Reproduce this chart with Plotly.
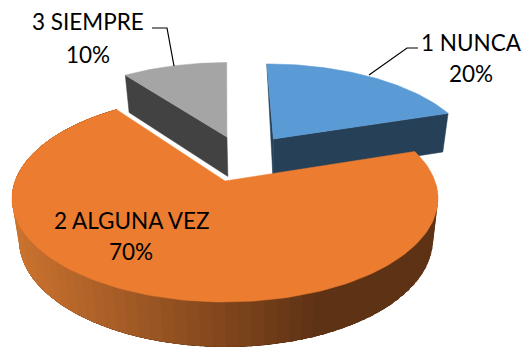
import math
import plotly.graph_objects as go

categories = ["1 NUNCA", "2 ALGUNA VEZ", "3 SIEMPRE"]
values = [20, 70, 10]
percent_labels = ["20%", "70%", "10%"]

W, H = 524, 347
TILT = -0.169
TOP = dict(cx=225.0, cy=198.5, rx=213.0, ry=103.5)
BOT = dict(cx=226.0, cy=240.0, rx=207.0, ry=107.0)
EXPLODE = {0: (0.248, -0.45), 1: (0.0, 0.0), 2: (0.01, -0.472)}
TOP_COL = ["#5B9BD5", "#EC7C30", "#A5A5A5"]
SIDE_COL = ["#264057", None, "#424242"]
K = math.sqrt(1 - TILT ** 2)


def project(x, y, plane):
    den = 1 + TILT * y
    u = K * x / den
    v = (y + TILT) / den
    return plane["cx"] + plane["rx"] * u, plane["cy"] + plane["ry"] * v


def pt(theta, off, r, plane):
    a = math.radians(theta)
    return project(off[0] + r * math.sin(a), off[1] - r * math.cos(a), plane)


def arc(t0, t1, off, plane, n=60):
    return [pt(t0 + (t1 - t0) * i / n, off, 1, plane) for i in range(n + 1)]


def poly(fig, pts, color, lw=0.5):
    xs = [p[0] for p in pts] + [pts[0][0]]
    ys = [p[1] for p in pts] + [pts[0][1]]
    fig.add_trace(go.Scatter(x=xs, y=ys, mode="lines", fill="toself", fillcolor=color,
                             line=dict(color=color, width=lw), hoverinfo="skip", showlegend=False))


total = sum(values)
angles = []
start = 0.0
for v in values:
    angles.append((start, start + 360.0 * v / total))
    start += 360.0 * v / total

fig = go.Figure()

# 3 SIEMPRE
t0, t1 = angles[2]
off = EXPLODE[2]
poly(fig, [pt(0, off, 0, TOP), pt(t0, off, 1, TOP), pt(t0, off, 1, BOT), pt(0, off, 0, BOT)], SIDE_COL[2])
poly(fig, [pt(0, off, 0, TOP)] + arc(t0, t1, off, TOP), TOP_COL[2])

# 1 NUNCA
t0, t1 = angles[0]
off = EXPLODE[0]
poly(fig, [pt(t0, off, 1, TOP), pt(0, off, 0, TOP), pt(0, off, 0, BOT)], SIDE_COL[0])
poly(fig, [pt(0, off, 0, TOP), pt(t1, off, 1, TOP), pt(t1, off, 1, BOT), pt(0, off, 0, BOT)], SIDE_COL[0])
poly(fig, [pt(0, off, 0, TOP)] + arc(t0, t1, off, TOP), TOP_COL[0])

# 2 ALGUNA VEZ: rim with horizontal shading, then top.
# Segments are painted so each reaches under the next, so no seams show.
t0, t1 = angles[1]
off = EXPLODE[1]
STEPS = 84
for i in range(STEPS):
    a0 = t0 + (t1 - t0) * i / STEPS
    a1 = t0 + (t1 - t0) * (i + 1) / STEPS
    p0, p1 = pt(a0, off, 1, TOP), pt(a1, off, 1, TOP)
    q0, q1 = pt(a0, off, 1, BOT), pt(a1, off, 1, BOT)
    f = min(max((0.5 * (p0[0] + p1[0]) - 10) / 310.0, 0), 1)
    c = (int(205 + (94 - 205) * f), int(116 + (50 - 116) * f), int(48 + (20 - 48) * f))
    pts = [p0] + arc(a0, t1, off, TOP, 12) + arc(t1, a0, off, BOT, 12)
    poly(fig, [p0, p1, q1, q0] if i == STEPS - 1 else pts, "rgb(%d,%d,%d)" % c, lw=0)
poly(fig, [pt(0, off, 0, TOP)] + arc(t0, t1, off, TOP, 160), TOP_COL[1])

# leader lines
for xs, ys in [([369, 407, 418], [75, 48, 48]), ([174, 167, 152], [66, 28, 28])]:
    fig.add_trace(go.Scatter(x=xs, y=ys, mode="lines", line=dict(color="#000000", width=1.2),
                             hoverinfo="skip", showlegend=False))

label_pos = [(471, 42.5, 73.5), (131, 220, 251), (88, 21.5, 54)]
for name, pct, (x, y1, y2) in zip(categories, percent_labels, label_pos):
    for txt, y in ((name, y1), (pct, y2)):
        fig.add_annotation(x=x, y=y, text=txt, showarrow=False, xanchor="center", yanchor="middle",
                           font=dict(family="Lato", size=22.5, color="#000000"))

fig.update_layout(width=W, height=H, margin=dict(l=0, r=0, t=0, b=0), paper_bgcolor="white",
                  plot_bgcolor="white", showlegend=False,
                  xaxis=dict(range=[0, W], visible=False, fixedrange=True),
                  yaxis=dict(range=[H, 0], visible=False, fixedrange=True))
fig.write_html("out.html", config={"displayModeBar": False},
               post_script="document.body.style.margin='0';document.body.style.overflow='hidden';")
